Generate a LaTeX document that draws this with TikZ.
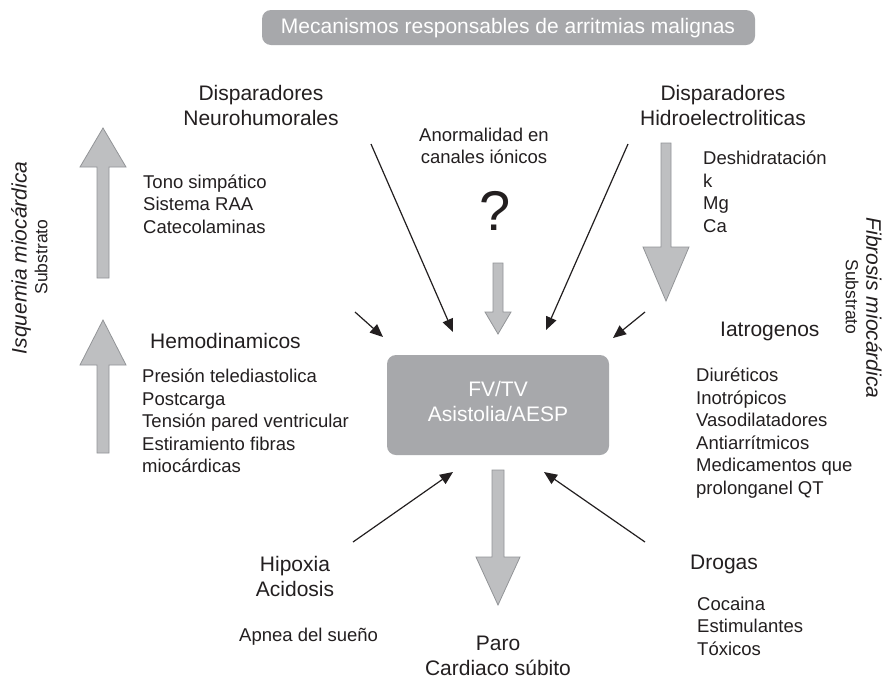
\documentclass[tikz,border=0pt]{standalone}
\usepackage{fontspec}
\setmainfont{Liberation Sans}
\usetikzlibrary{arrows.meta}
\definecolor{boxgray}{HTML}{A7A8AB}
\definecolor{arrfill}{HTML}{BEBFC1}
\definecolor{arrline}{HTML}{929497}
\definecolor{txt}{HTML}{231F20}
\newcommand\fatarr[6]{%
  \draw[fatarrow] ({#1-#5},#2) -- ({#1-#5},#3) -- ({#1-#6},#3) -- (#1,#4)
    -- ({#1+#6},#3) -- ({#1+#5},#3) -- ({#1+#5},#2) -- cycle;}
\begin{document}
\begin{tikzpicture}[x=1pt,y=-1pt,
  big/.style={font=\fontsize{21}{25}\selectfont, inner sep=0pt, align=center, text=txt},
  small/.style={font=\fontsize{18.5}{22.5}\selectfont, inner sep=0pt, align=left, text=txt},
  thinarrow/.style={line width=1.2pt, draw=txt, -{Triangle[length=13pt,width=11pt]}},
  fatarrow/.style={fill=arrfill, draw=arrline, line width=0.8pt},
  graybox/.style={fill=boxgray, draw=none, rounded corners=9pt}]
\fill[white] (0,0) rectangle (888,681);
\useasboundingbox (0,0) rectangle (888,681);

% banner
\fill[graybox] (262,10) rectangle (755,45);
\node[big, text=white] (banner) at (508,28) {Mecanismos responsables de arritmias malignas};

% central box
\fill[graybox] (387,355) rectangle (609,455);
\node[big, text=white] (fv) at (498,401) {FV/TV\\Asistolia/AESP};

% top labels
\node[big] (neuro) at (261,105) {Disparadores\\Neurohumorales};
\node[small, align=center] (anorm) at (484,146) {Anormalidad en\\canales iónicos};
\node[font=\fontsize{56}{60}\selectfont, inner sep=0pt, text=txt] (q) at (495,211) {?};
\node[big] (hidro) at (723,105) {Disparadores\\Hidroelectroliticas};

% left column
\node[small, anchor=west] (tono) at (143,204) {Tono simpático\\Sistema RAA\\Catecolaminas};
\node[big, anchor=west] (hemo) at (150,341) {Hemodinamicos};
\node[small, anchor=west] (pres) at (142,421) {Presión telediastolica\\Postcarga\\Tensión pared ventricular\\Estiramiento fibras\\miocárdicas};

% right column
\node[small, anchor=west] (desh) at (703,192) {Deshidratación\\k\\Mg\\Ca};
\node[big, anchor=west] (iatro) at (720,331) {Iatrogenos};
\node[small, anchor=west] (diur) at (696,433) {Diuréticos\\Inotrópicos\\Vasodilatadores\\Antiarrítmicos\\Medicamentos que\\prolonganel QT};

% bottom
\node[big] (hipox) at (295,576) {Hipoxia\\Acidosis};
\node[small, anchor=west] (apnea) at (239,637) {Apnea del sueño};
\node[big] (paro) at (498,656) {Paro\\Cardiaco súbito};
\node[big, anchor=west] (drogas) at (690,564) {Drogas};
\node[small, anchor=west] (coca) at (697,626) {Cocaina\\Estimulantes\\Tóxicos};

% vertical labels
\node[font=\fontsize{21}{25}\selectfont\itshape, inner sep=0pt, rotate=90, text=txt] (isq) at (21,258) {Isquemia miocárdica};
\node[font=\fontsize{17.5}{20}\selectfont, inner sep=0pt, rotate=90, text=txt] (subl) at (41,257) {Substrato};
\node[font=\fontsize{21}{25}\selectfont\itshape, inner sep=0pt, rotate=-90, text=txt] (fib) at (874,308) {Fibrosis miocárdica};
\node[font=\fontsize{17.5}{20}\selectfont, inner sep=0pt, rotate=-90, text=txt] (subr) at (852,297) {Substrato};

% fat arrows
\fatarr{103}{278}{167}{128}{6}{23}
\fatarr{103}{453}{365}{320}{6}{23}
\fatarr{666}{143}{247}{301}{5}{23}
\fatarr{498}{263}{312}{334}{5}{13}
\fatarr{498}{470}{557}{605}{6}{22}

% thin arrows
\coordinate (n1s) at (371,144); \coordinate (n1e) at (453,332);
\coordinate (h1s) at (628,144); \coordinate (h1e) at (546,330);
\coordinate (hes) at (355,312); \coordinate (hee) at (383,337);
\coordinate (ias) at (645,312); \coordinate (iae) at (613,338);
\coordinate (hxs) at (353,542); \coordinate (hxe) at (453,472);
\coordinate (drs) at (645,542); \coordinate (dre) at (544,472);
\draw[thinarrow] (n1s) -- (n1e);
\draw[thinarrow] (h1s) -- (h1e);
\draw[thinarrow] (hes) -- (hee);
\draw[thinarrow] (ias) -- (iae);
\draw[thinarrow] (hxs) -- (hxe);
\draw[thinarrow] (drs) -- (dre);
\end{tikzpicture}
\end{document}
